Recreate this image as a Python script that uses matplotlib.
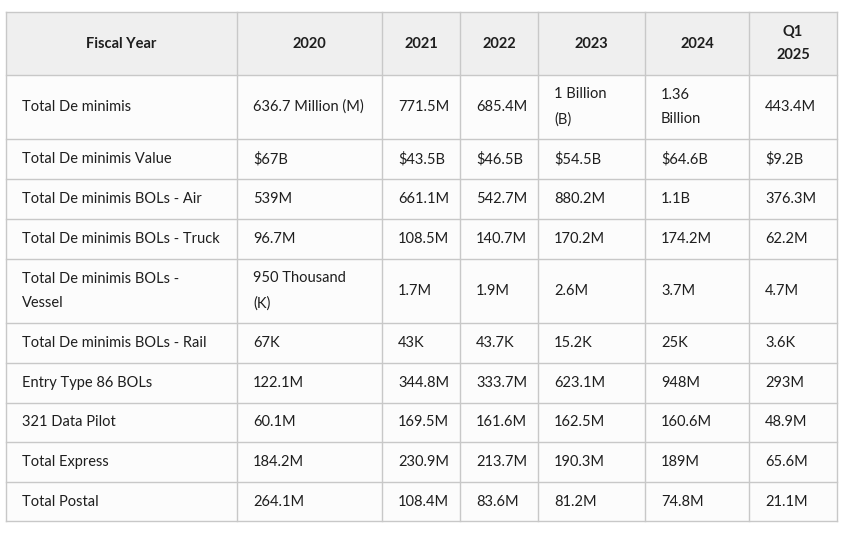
import matplotlib
matplotlib.use('Agg')
import matplotlib.pyplot as plt
from matplotlib.patches import Rectangle

# table content
header = ['Fiscal Year', '2020', '2021', '2022', '2023', '2024', 'Q1\n2025']
row_labels = ['Total De minimis', 'Total De minimis Value', 'Total De minimis BOLs - Air',
              'Total De minimis BOLs - Truck', 'Total De minimis BOLs -\nVessel',
              'Total De minimis BOLs - Rail', 'Entry Type 86 BOLs', '321 Data Pilot',
              'Total Express', 'Total Postal']
fy2020 = ['636.7 Million (M)', '$67B', '539M', '96.7M', '950 Thousand\n(K)', '67K',
          '122.1M', '60.1M', '184.2M', '264.1M']
fy2021 = ['771.5M', '$43.5B', '661.1M', '108.5M', '1.7M', '43K', '344.8M', '169.5M',
          '230.9M', '108.4M']
fy2022 = ['685.4M', '$46.5B', '542.7M', '140.7M', '1.9M', '43.7K', '333.7M', '161.6M',
          '213.7M', '83.6M']
fy2023 = ['1 Billion\n(B)', '$54.5B', '880.2M', '170.2M', '2.6M', '15.2K', '623.1M',
          '162.5M', '190.3M', '81.2M']
fy2024 = ['1.36\nBillion', '$64.6B', '1.1B', '174.2M', '3.7M', '25K', '948M', '160.6M',
          '189M', '74.8M']
q1_2025 = ['443.4M', '$9.2B', '376.3M', '62.2M', '4.7M', '3.6K', '293M', '48.9M',
           '65.6M', '21.1M']

# layout (pixels)
col_edges = [6, 237, 382, 460, 538, 645, 749, 837]
row_edges = [12, 75, 139, 179, 219, 259, 323, 363, 403, 442, 482, 521]
PAD = 16
BORDER = '#c8c8c8'
HEAD_BG = '#efefef'
BODY_BG = '#fcfcfc'
TXT = '#1e1e1e'

plt.rcParams['font.family'] = ['Lato', 'DejaVu Sans']

fig = plt.figure(figsize=(8.52, 5.38), dpi=100)
ax = fig.add_axes([0, 0, 1, 1])
ax.set_xlim(0, 852)
ax.set_ylim(538, 0)
ax.axis('off')

columns = [row_labels, fy2020, fy2021, fy2022, fy2023, fy2024, q1_2025]

# backgrounds
ax.add_patch(Rectangle((col_edges[0], row_edges[0]), col_edges[-1] - col_edges[0],
                       row_edges[1] - row_edges[0], facecolor=HEAD_BG, edgecolor='none'))
ax.add_patch(Rectangle((col_edges[0], row_edges[1]), col_edges[-1] - col_edges[0],
                       row_edges[-1] - row_edges[1], facecolor=BODY_BG, edgecolor='none'))

# grid lines
for x in col_edges:
    ax.plot([x, x], [row_edges[0], row_edges[-1]], color=BORDER, lw=1)
for y in row_edges:
    ax.plot([col_edges[0], col_edges[-1]], [y, y], color=BORDER, lw=1)

# header
for j, h in enumerate(header):
    xc = (col_edges[j] + col_edges[j + 1]) / 2
    yc = (row_edges[0] + row_edges[1]) / 2
    ax.text(xc, yc, h, ha='center', va='center', fontsize=10.5, fontweight='bold',
            color=TXT, linespacing=1.9)

# body
for j, col in enumerate(columns):
    for i, val in enumerate(col):
        yc = (row_edges[i + 1] + row_edges[i + 2]) / 2
        ax.text(col_edges[j] + PAD, yc, val, ha='left', va='center', fontsize=10.5,
                color=TXT, linespacing=1.95)

fig.savefig('out.png', dpi=100, facecolor='white')
